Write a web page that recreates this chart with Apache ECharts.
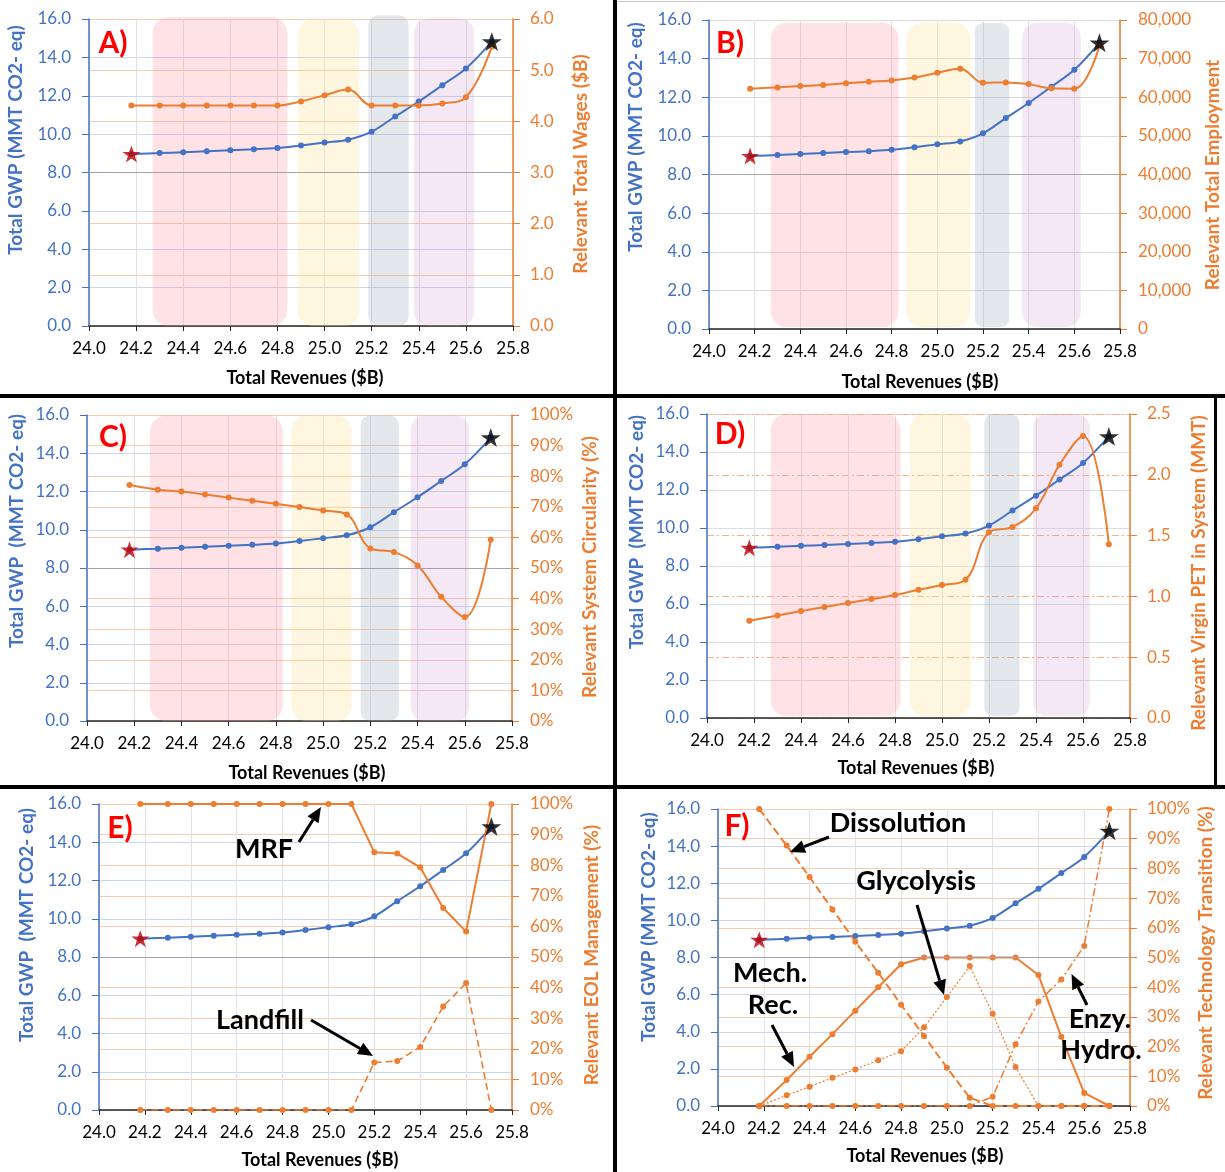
<!DOCTYPE html>
<html><head><meta charset="utf-8">
<script src="https://cdn.jsdelivr.net/npm/echarts@6/dist/echarts.min.js"></script>
<style>html,body{margin:0;padding:0;background:#fff}#c{width:1225px;height:1172px}</style>
</head><body><div id="c"></div>
<script>
// ---------------- DATA ----------------
const revenues = [24.18, 24.3, 24.4, 24.5, 24.6, 24.7, 24.8, 24.9, 25.0, 25.1, 25.2, 25.3, 25.4, 25.5, 25.6, 25.71];
const totalGWP = [8.96, 9.01, 9.06, 9.11, 9.16, 9.21, 9.28, 9.41, 9.56, 9.71, 10.13, 10.92, 11.70, 12.55, 13.42, 14.82];
const totalWages = [4.31, 4.31, 4.31, 4.31, 4.31, 4.31, 4.31, 4.39, 4.51, 4.62, 4.31, 4.31, 4.31, 4.35, 4.47, 5.46];
const totalEmployment = [62200, 62550, 62900, 63150, 63600, 64000, 64360, 65100, 66350, 67400, 63760, 63850, 63400, 62300, 62200, 73350];
const systemCircularity = [77.1, 75.6, 75.0, 74.0, 73.0, 72.0, 71.0, 69.9, 68.8, 67.5, 56.4, 55.2, 50.8, 40.6, 34.0, 59.2];
const virginPET = [0.80, 0.843, 0.879, 0.912, 0.945, 0.978, 1.011, 1.055, 1.093, 1.137, 1.527, 1.571, 1.725, 2.082, 2.319, 1.429];
const eolMRF = [100, 100, 100, 100, 100, 100, 100, 100, 100, 100, 84.2, 83.8, 79.3, 66.0, 58.3, 100];
const eolLandfill = [0, 0, 0, 0, 0, 0, 0, 0, 0, 0, 15.5, 16.0, 20.6, 33.8, 41.5, 0];
const techDissolution = [100, 87.7, 77.1, 66.2, 55.3, 44.9, 34.1, 23.6, 12.9, 2.8, 0, 0, 0, 0, 0, 0];
const techMechRec = [0, 8.75, 16.6, 24.2, 32.1, 40.0, 47.7, 50.0, 50.0, 50.0, 50.0, 50.0, 44.1, 23.3, 4.4, 0];
const techGlycolysis = [0, 3.6, 6.5, 9.5, 12.3, 15.4, 18.4, 26.5, 36.7, 47.1, 31.1, 13.1, 0, 0, 0, 0];
const techEnzyHydro = [0, 0, 0, 0, 0, 0, 0, 0, 0, 0, 3.1, 20.8, 35.2, 42.6, 53.9, 100];

// axis ranges / tick steps
const revenueAxis = [24.0, 25.8, 0.2];
const gwpAxis = [0, 16, 2];
const wagesAxis = [0, 6, 1];
const employmentAxis = [0, 80000, 10000];
const percentAxis = [0, 100, 10];
const petAxis = [0, 2.5, 0.5];

// shaded scenario bands [x0, x1, yBottom, yTop] (GWP units)
const bandsA = [[24.27, 24.842, 0, 16.09], [24.887, 25.146, 0, 16.0], [25.186, 25.357, 0, 16.2], [25.379, 25.636, 0, 16.03]];
const bandsB = [[24.27, 24.83, 0.1, 15.86], [24.865, 25.144, 0.1, 15.86], [25.164, 25.315, 0.1, 15.86], [25.372, 25.628, 0.1, 15.86]];
const bandsC = [[24.267, 24.829, 0, 15.97], [24.866, 25.119, 0, 15.97], [25.159, 25.321, 0, 15.97], [25.371, 25.619, 0, 15.97]];
const bandsD = [[24.271, 24.824, 0.1, 16.0], [24.864, 25.123, 0.1, 16.0], [25.18, 25.33, 0.1, 16.0], [25.388, 25.629, 0.1, 16.0]];

// ---------------- STYLE ----------------
const BLUE = '#4472C4', ORANGE = '#ED7D31';
const FONT = 'Lato';
const shadeColors = ['rgba(250,150,160,0.28)', 'rgba(252,225,150,0.30)', 'rgba(150,165,180,0.26)', 'rgba(200,150,205,0.22)'];
const STAR = 'path://M50,2 L61.8,36.2 L97.6,36.2 L68.6,57.4 L79.4,92 L50,70.6 L20.6,92 L31.4,57.4 L2.4,36.2 L38.2,36.2 Z';

const grids = [
  {left: 89, top: 19, width: 424, height: 307},
  {left: 709, top: 20, width: 411, height: 309},
  {left: 87, top: 415, width: 425, height: 306},
  {left: 707, top: 414, width: 423, height: 304},
  {left: 99, top: 804, width: 413, height: 306},
  {left: 718, top: 809, width: 412, height: 297}
];

const panelCfg = [
  {right: wagesAxis, fmt: v => v.toFixed(1), leftGrid: '#cbd5ee', rightGrid: {color: '#f8cbad'}, rMargin: 17, mark8: '#a99fb3'},
  {right: employmentAxis, fmt: v => v.toLocaleString('en-US'), leftGrid: '#d9d9d9', rightGrid: null, rMargin: 18, mark8: '#a6a6a6'},
  {right: percentAxis, fmt: v => v + '%', leftGrid: '#cbd5ee', rightGrid: {color: '#f8cbad'}, rMargin: 18, mark8: '#a99fb3'},
  {right: petAxis, fmt: v => v.toFixed(1), leftGrid: '#dedede', rightGrid: {color: '#f4b183', type: [7, 3, 2, 3]}, rMargin: 17, mark8: null},
  {right: percentAxis, fmt: v => v + '%', leftGrid: '#cbd5ee', rightGrid: {color: '#f8cbad'}, rMargin: 18, mark8: '#a99fb3'},
  {right: percentAxis, fmt: v => v + '%', leftGrid: '#cbd5ee', rightGrid: {color: '#f8cbad'}, rMargin: 17, mark8: '#a99fb3'}
];

const pts = ys => revenues.map((x, j) => [x, ys[j]]);

const xAxes = [], yAxes = [], series = [];
grids.forEach((g, i) => {
  g.outerBoundsMode = 'none';
  const cfg = panelCfg[i];
  xAxes.push({
    gridIndex: i, type: 'value', min: revenueAxis[0], max: revenueAxis[1], interval: revenueAxis[2],
    axisLine: {show: true, onZero: false, lineStyle: {color: '#262626', width: 1.5}},
    axisTick: {show: true, length: 5, lineStyle: {color: '#262626'}},
    axisLabel: {color: '#000', fontFamily: FONT, fontSize: 17, margin: 14, formatter: v => v.toFixed(1)},
    splitLine: {show: true, lineStyle: {color: '#e2e2e2', width: 1}}
  });
  yAxes.push({
    gridIndex: i, type: 'value', position: 'left', min: gwpAxis[0], max: gwpAxis[1], interval: gwpAxis[2],
    axisLine: {show: true, lineStyle: {color: BLUE, width: 1.5}},
    axisTick: {show: true, length: 7, lineStyle: {color: BLUE}},
    axisLabel: {color: BLUE, fontFamily: FONT, fontSize: 17, margin: 18, formatter: v => v.toFixed(1)},
    splitLine: {show: true, lineStyle: {color: cfg.leftGrid, width: 1}}
  });
  yAxes.push({
    gridIndex: i, type: 'value', position: 'right', min: cfg.right[0], max: cfg.right[1], interval: cfg.right[2],
    axisLine: {show: true, lineStyle: {color: ORANGE, width: 1.5}},
    axisTick: {show: true, length: 7, lineStyle: {color: ORANGE}},
    axisLabel: {color: ORANGE, fontFamily: FONT, fontSize: 17, margin: cfg.rMargin, formatter: cfg.fmt},
    splitLine: cfg.rightGrid ? {show: true, lineStyle: Object.assign({width: 1}, cfg.rightGrid)} : {show: false}
  });
});

function bandSeries(i, bands) {
  return {
    type: 'custom', xAxisIndex: i, yAxisIndex: 2 * i, z: 1, silent: true, clip: false,
    data: bands, encode: {x: [0, 1], y: [2, 3]},
    renderItem: (params, api) => {
      const a = api.coord([api.value(0), api.value(3)]);
      const b = api.coord([api.value(1), api.value(2)]);
      const w = b[0] - a[0], h = b[1] - a[1];
      return {type: 'rect', shape: {x: a[0], y: a[1], width: w, height: h, r: Math.min(16, w / 4)},
              style: {fill: shadeColors[params.dataIndex]}};
    }
  };
}
function gwpSeries(i) {
  const s = {
    type: 'line', xAxisIndex: i, yAxisIndex: 2 * i, z: 3, data: pts(totalGWP), smooth: 0.35,
    symbol: 'circle', symbolSize: 6, showAllSymbol: true, color: BLUE,
    lineStyle: {width: 2, color: BLUE}, itemStyle: {color: BLUE}
  };
  if (panelCfg[i].mark8) {
    s.markLine = {silent: true, symbol: ['none', 'none'], label: {show: false},
      lineStyle: {color: panelCfg[i].mark8, width: 1, type: 'solid'}, data: [{yAxis: 8}]};
  }
  return s;
}
function starSeries(i) {
  const n = revenues.length - 1;
  return {
    type: 'scatter', xAxisIndex: i, yAxisIndex: 2 * i, z: 6, symbol: STAR, symbolKeepAspect: true,
    data: [{value: [revenues[0], totalGWP[0]], symbolSize: 18, itemStyle: {color: '#C00000'}},
           {value: [revenues[n], totalGWP[n]], symbolSize: 20, itemStyle: {color: '#000'}}]
  };
}
function orangeSeries(i, ys, smooth, type, width) {
  return {
    type: 'line', xAxisIndex: i, yAxisIndex: 2 * i + 1, z: 4, data: pts(ys), smooth: smooth,
    symbol: 'circle', symbolSize: 6, showAllSymbol: true, color: ORANGE,
    lineStyle: {width: width || 2, color: ORANGE, type: type || 'solid'}, itemStyle: {color: ORANGE}
  };
}

series.push(bandSeries(0, bandsA), bandSeries(1, bandsB), bandSeries(2, bandsC), bandSeries(3, bandsD));
for (let i = 0; i < 6; i++) series.push(gwpSeries(i));
series.push(orangeSeries(0, totalWages, 0.4));
series.push(orangeSeries(1, totalEmployment, 0.4));
series.push(orangeSeries(2, systemCircularity, 0.4));
series.push(orangeSeries(3, virginPET, 0.4));
series.push(orangeSeries(4, eolMRF, false));
series.push(orangeSeries(4, eolLandfill, false, [7, 4], 1.6));
series.push(orangeSeries(5, techDissolution, false, [8, 4], 2));
series.push(orangeSeries(5, techMechRec, false, 'solid', 2));
series.push(orangeSeries(5, techGlycolysis, false, [2, 2], 1.2));
series.push(orangeSeries(5, techEnzyHydro, false, [8, 3, 2, 3], 1.5));
for (let i = 0; i < 6; i++) series.push(starSeries(i));

// ---------------- TEXT / ANNOTATIONS ----------------
const g = [];
function txt(t, x, y, font, fill, rot) {
  g.push({type: 'text', x: x, y: y, rotation: rot || 0, z: 100,
    style: {text: t, font: font, fill: fill, align: 'center', verticalAlign: 'middle'}});
}
function arrow(x1, y1, x2, y2) {
  const ang = Math.atan2(y2 - y1, x2 - x1), L = 15, W = 6.5;
  const bx = x2 - L * Math.cos(ang), by = y2 - L * Math.sin(ang);
  const px = -Math.sin(ang) * W, py = Math.cos(ang) * W;
  g.push({type: 'line', z: 100, shape: {x1: x1, y1: y1, x2: bx, y2: by}, style: {stroke: '#000', lineWidth: 3}});
  g.push({type: 'polygon', z: 100, shape: {points: [[x2, y2], [bx + px, by + py], [bx - px, by - py]]}, style: {fill: '#000'}});
}
// dividers
g.push({type: 'rect', z: 90, shape: {x: 613, y: 0, width: 4, height: 1172}, style: {fill: '#000'}});
g.push({type: 'rect', z: 90, shape: {x: 0, y: 394, width: 1225, height: 4}, style: {fill: '#000'}});
g.push({type: 'rect', z: 90, shape: {x: 0, y: 785, width: 1225, height: 4}, style: {fill: '#000'}});
g.push({type: 'rect', z: 90, shape: {x: 617, y: 1, width: 608, height: 1}, style: {fill: '#c8c8c8'}});
g.push({type: 'rect', z: 90, shape: {x: 1214, y: 396, width: 3, height: 391}, style: {fill: '#000'}});

const YT = 'bold 19px ' + FONT, XT = 'bold 18px ' + FONT, PL = 'bold 30px ' + FONT, AN = 'bold 27px ' + FONT;
const R90 = Math.PI / 2;
// panel labels
txt('A)', 113, 43, PL, '#FF0000'); txt('B)', 730, 43, PL, '#FF0000');
txt('C)', 113, 437, PL, '#FF0000'); txt('D)', 730, 434, PL, '#FF0000');
txt('E)', 120, 828, PL, '#FF0000'); txt('F)', 737, 826, PL, '#FF0000');
// axis titles
txt('Total GWP (MMT CO2- eq)', 16, 140, YT, BLUE, R90);
txt('Relevant Total Wages ($B)', 581, 164, YT, ORANGE, R90);
txt('Total Revenues ($B)', 305, 378, XT, '#000');
txt('Total GWP (MMT CO2- eq)', 636, 137, YT, BLUE, R90);
txt('Relevant Total Employment', 1213, 175, YT, ORANGE, R90);
txt('Total Revenues ($B)', 920, 382, XT, '#000');
txt('Total GWP  (MMT CO2- eq)', 17, 531, YT, BLUE, R90);
txt('Relevant System Circularity (%)', 590, 567, YT, ORANGE, R90);
txt('Total Revenues ($B)', 307, 773, XT, '#000');
txt('Total GWP  (MMT CO2- eq)', 637, 532, YT, BLUE, R90);
txt('Relevant Virgin PET in System (MMT)', 1199, 573, YT, ORANGE, R90);
txt('Total Revenues ($B)', 916, 768, XT, '#000');
txt('Total GWP  (MMT CO2- eq)', 27, 925, YT, BLUE, R90);
txt('Relevant EOL Management (%)', 592, 955, YT, ORANGE, R90);
txt('Total Revenues ($B)', 320, 1160, XT, '#000');
txt('Total GWP (MMT CO2- eq)', 649, 927, YT, BLUE, R90);
txt('Relevant Technology Transition (%)', 1206, 953, YT, ORANGE, R90);
txt('Total Revenues ($B)', 925, 1156, XT, '#000');
// annotations
txt('MRF', 264, 849, AN, '#000'); arrow(299, 842, 321, 807);
txt('Landfill', 260, 1020, AN, '#000'); arrow(311, 1020, 373, 1056);
txt('Dissolution', 898, 823, AN, '#000'); arrow(829, 837, 790, 852);
txt('Glycolysis', 916, 881, AN, '#000'); arrow(917, 905, 944, 995);
txt('Mech.', 770, 973, AN, '#000'); txt('Rec.', 773, 1005, AN, '#000'); arrow(772, 1025, 794, 1067);
txt('Enzy.', 1100, 1019, AN, '#000'); txt('Hydro.', 1101, 1050, AN, '#000'); arrow(1087, 1005, 1071.5, 974);

const chart = echarts.init(document.getElementById('c'), null, {renderer: 'canvas'});
chart.setOption({
  animation: false,
  backgroundColor: '#fff',
  grid: grids,
  xAxis: xAxes,
  yAxis: yAxes,
  series: series,
  graphic: {elements: g}
});
</script>
</body></html>
